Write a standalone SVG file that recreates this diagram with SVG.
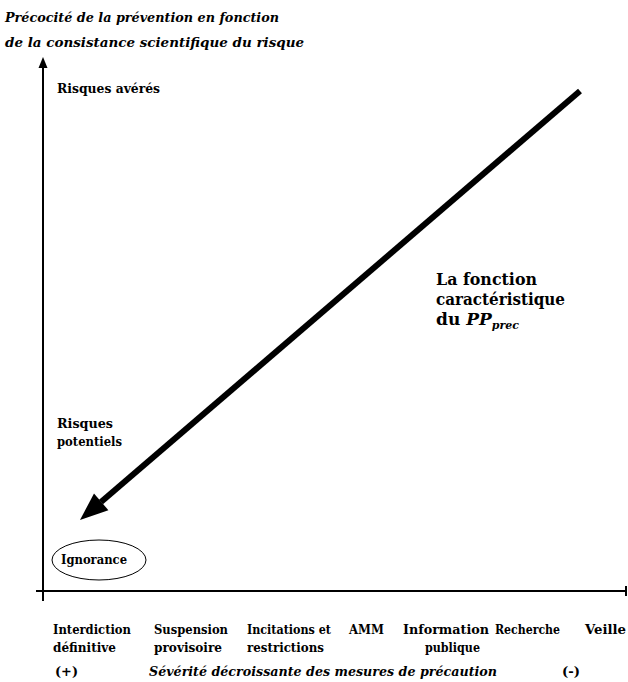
<svg xmlns="http://www.w3.org/2000/svg" width="628" height="682" viewBox="0 0 628 682">
<style>
text{font-family:'DejaVu Serif','Liberation Serif','Times New Roman',serif;font-weight:bold;fill:#000}
.t{font-style:italic;font-size:13px}
.l{font-size:13px}
.big{font-size:17px}
.ax{stroke:#000;stroke-width:2;fill:none}
</style>
<rect width="628" height="682" fill="#fff"/>
<g id="axis-title">
<text class="t" x="5" y="22" textLength="274" lengthAdjust="spacingAndGlyphs">Précocité de la prévention en fonction</text>
<text class="t" x="5" y="47" textLength="299" lengthAdjust="spacingAndGlyphs">de la consistance scientifique du risque</text>
</g>
<g id="connectors">
<line class="ax" x1="43" y1="66" x2="43" y2="601"/>
<polygon points="43,57 38.5,68 47.5,68" fill="#000"/>
<line class="ax" x1="36" y1="591" x2="626" y2="591"/>
<line class="ax" x1="626" y1="586" x2="626" y2="596"/>
<line x1="580" y1="91" x2="101" y2="502" stroke="#000" stroke-width="6"/>
<polygon points="80,520 108.4,510.2 94,493.5" fill="#000"/>
</g>
<g id="risques-averes"><text class="l" x="57" y="93" textLength="103" lengthAdjust="spacingAndGlyphs">Risques avérés</text></g>
<g id="risques-potentiels">
<text class="l" x="57" y="428" textLength="56" lengthAdjust="spacingAndGlyphs">Risques</text>
<text class="l" x="57" y="446" textLength="65" lengthAdjust="spacingAndGlyphs">potentiels</text>
</g>
<g id="fonction">
<text class="big" x="436" y="285" textLength="101" lengthAdjust="spacingAndGlyphs">La fonction</text>
<text class="big" x="436" y="305" textLength="129" lengthAdjust="spacingAndGlyphs">caractéristique</text>
<text class="big" x="436" y="325">du <tspan font-style="italic">PP</tspan><tspan font-style="italic" font-size="11" dy="4">prec</tspan></text>
</g>
<g id="ignorance">
<ellipse cx="99" cy="560" rx="47" ry="20" fill="none" stroke="#000" stroke-width="1"/>
<text class="l" x="61" y="564" textLength="66" lengthAdjust="spacingAndGlyphs">Ignorance</text>
</g>
<g id="mesures">
<text class="l" x="53" y="634" textLength="78" lengthAdjust="spacingAndGlyphs">Interdiction</text>
<text class="l" x="53" y="652" textLength="63" lengthAdjust="spacingAndGlyphs">définitive</text>
<text class="l" x="154" y="634" textLength="74" lengthAdjust="spacingAndGlyphs">Suspension</text>
<text class="l" x="154" y="652" textLength="68" lengthAdjust="spacingAndGlyphs">provisoire</text>
<text class="l" x="247" y="634" textLength="84" lengthAdjust="spacingAndGlyphs">Incitations et</text>
<text class="l" x="247" y="652" textLength="77" lengthAdjust="spacingAndGlyphs">restrictions</text>
<text class="l" x="349" y="634" textLength="35" lengthAdjust="spacingAndGlyphs">AMM</text>
<text class="l" x="403" y="634" textLength="86" lengthAdjust="spacingAndGlyphs">Information</text>
<text class="l" x="425" y="652" textLength="55" lengthAdjust="spacingAndGlyphs">publique</text>
<text class="l" x="495" y="634" textLength="65" lengthAdjust="spacingAndGlyphs">Recherche</text>
<text class="l" x="585" y="634" textLength="41" lengthAdjust="spacingAndGlyphs">Veille</text>
</g>
<g id="severite">
<text class="l" x="55" y="676" textLength="23" lengthAdjust="spacingAndGlyphs">(+)</text>
<text class="t" x="149" y="676" textLength="348" lengthAdjust="spacingAndGlyphs">Sévérité décroissante des mesures de précaution</text>
<text class="l" x="562" y="676" textLength="18" lengthAdjust="spacingAndGlyphs">(-)</text>
</g>
</svg>
